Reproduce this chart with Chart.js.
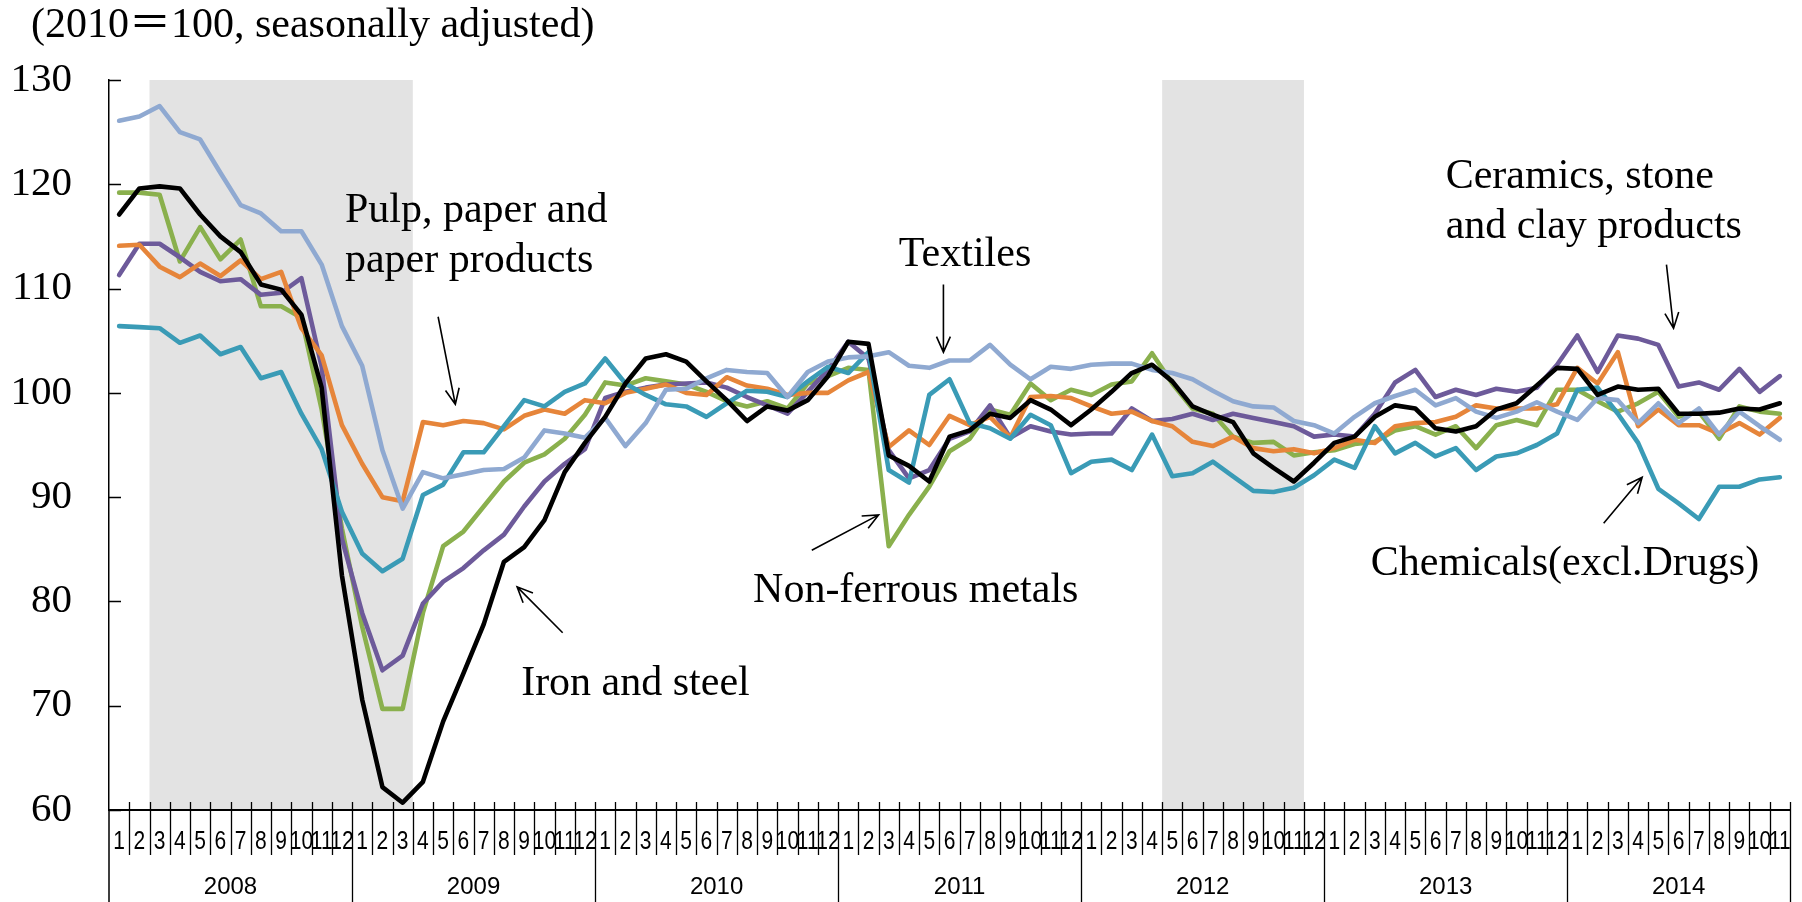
<!DOCTYPE html>
<html>
<head>
<meta charset="utf-8">
<script src="https://cdn.jsdelivr.net/npm/chart.js@4.4.1/dist/chart.umd.min.js"></script>
<style>
  html, body { margin: 0; padding: 0; background: #ffffff; }
  #wrap { width: 1802px; height: 902px; }
</style>
</head>
<body>
<div id="wrap"><canvas id="chart" width="1802" height="902"></canvas></div>
<script>
// --- data (Jan 2008 .. Nov 2014, monthly) ---
const years = ['2008', '2009', '2010', '2011', '2012', '2013', '2014'];
const monthNames = ['1', '2', '3', '4', '5', '6', '7', '8', '9', '10', '11', '12'];
const monthsInLastYear = 11;
const yTicks = [60, 70, 80, 90, 100, 110, 120, 130];

const ironSteel = [
  117.1, 119.6, 119.8, 119.6, 117.1, 115.0, 113.5, 110.4, 109.9, 107.5, 100.5, 82.5,
  70.6, 62.2, 60.7, 62.7, 68.5, 73.1, 77.8, 83.8, 85.2, 87.8, 92.4, 95.2,
  97.7, 100.9, 103.3, 103.7, 103.0, 101.1, 99.3, 97.3, 98.7, 98.3, 99.3, 101.6,
  104.9, 104.7, 94.0, 93.0, 91.5, 95.8, 96.4, 98.0, 97.6, 99.3, 98.4, 96.9,
  98.4, 100.1, 101.9, 102.7, 101.1, 98.7, 97.9, 97.2, 94.2, 92.8, 91.5, 93.3,
  95.2, 95.8, 97.7, 98.8, 98.5, 96.6, 96.3, 96.8, 98.4, 99.0, 100.7, 102.4,
  102.3, 99.8, 100.6, 100.3, 100.4, 98.0, 98.0, 98.1, 98.5, 98.4, 99.0
];
const nonFerrous = [
  119.2, 119.2, 119.0, 112.6, 115.9, 112.8, 114.7, 108.3, 108.3, 107.2, 98.4, 87.0,
  77.6, 69.7, 69.7, 78.9, 85.3, 86.7, 89.1, 91.5, 93.3, 94.1, 95.6, 97.9,
  101.0, 100.7, 101.4, 101.1, 100.8, 100.1, 99.2, 98.7, 99.2, 98.5, 100.9, 101.6,
  102.4, 102.2, 85.3, 88.3, 91.0, 94.4, 95.6, 98.4, 97.9, 100.9, 99.3, 100.3,
  99.8, 100.8, 101.1, 103.8, 100.9, 98.5, 98.0, 95.8, 95.2, 95.3, 94.0, 94.3,
  94.5, 95.1, 95.3, 96.4, 96.8, 96.0, 96.8, 94.7, 96.9, 97.4, 96.9, 100.3,
  100.3, 99.2, 98.2, 99.0, 100.1, 97.7, 98.2, 95.6, 98.7, 98.2, 98.0
];
const pulpPaper = [
  114.1, 114.2, 112.1, 111.1, 112.4, 111.2, 112.7, 110.9, 111.6, 106.2, 103.6, 96.9,
  93.2, 90.0, 89.6, 97.2, 96.9, 97.3, 97.1, 96.5, 97.8, 98.4, 98.0, 99.3,
  99.0, 100.0, 100.4, 100.8, 100.0, 99.8, 101.5, 100.7, 100.4, 99.8, 100.0, 100.0,
  101.2, 102.0, 94.8, 96.4, 95.0, 97.8, 96.9, 97.7, 95.7, 99.6, 99.7, 99.5,
  98.7, 98.0, 98.2, 97.3, 96.8, 95.3, 94.9, 95.8, 94.7, 94.4, 94.6, 94.2,
  94.7, 95.5, 95.2, 96.8, 97.1, 97.2, 97.7, 98.8, 98.5, 98.5, 98.5, 98.9,
  102.4, 100.9, 103.9, 96.8, 98.4, 96.9, 96.9, 96.1, 97.1, 96.0, 97.6
];
const textiles = [
  126.1, 126.5, 127.5, 125.0, 124.3, 121.1, 118.0, 117.2, 115.5, 115.5, 112.3, 106.4,
  102.6, 94.5, 88.9, 92.4, 91.8, 92.2, 92.6, 92.7, 93.8, 96.4, 96.1, 95.7,
  97.6, 94.9, 97.1, 100.3, 100.4, 101.4, 102.2, 102.0, 101.9, 99.6, 102.0, 103.0,
  103.4, 103.5, 103.9, 102.6, 102.4, 103.1, 103.1, 104.6, 102.7, 101.3, 102.5, 102.3,
  102.7, 102.8, 102.8, 102.2, 101.9, 101.3, 100.2, 99.2, 98.7, 98.6, 97.3, 96.9,
  96.1, 97.7, 99.0, 99.7, 100.3, 98.8, 99.5, 98.2, 97.6, 98.2, 99.1, 98.2,
  97.4, 99.5, 99.3, 97.1, 99.0, 97.1, 98.5, 96.0, 98.2, 96.8, 95.5
];
const ceramics = [
  111.3, 114.3, 114.3, 113.0, 111.6, 110.7, 110.9, 109.4, 109.6, 111.0, 102.5, 86.0,
  78.9, 73.4, 74.8, 79.8, 81.9, 83.2, 84.9, 86.4, 89.1, 91.5, 93.2, 94.6,
  99.5, 100.1, 100.5, 100.8, 100.9, 101.0, 100.5, 99.6, 98.8, 98.0, 100.1, 102.2,
  104.9, 103.3, 94.5, 91.8, 92.6, 95.6, 96.3, 98.8, 95.7, 96.8, 96.3, 96.0,
  96.1, 96.1, 98.5, 97.3, 97.5, 98.0, 97.4, 98.0, 97.6, 97.2, 96.8, 95.8,
  96.0, 95.8, 98.0, 101.0, 102.2, 99.6, 100.3, 99.8, 100.4, 100.1, 100.5, 102.7,
  105.5, 102.0, 105.5, 105.2, 104.6, 100.6, 101.0, 100.3, 102.3, 100.1, 101.6
];
const chemicals = [
  106.4, 106.3, 106.2, 104.8, 105.5, 103.7, 104.4, 101.4, 102.0, 98.0, 94.6, 88.6,
  84.6, 82.9, 84.1, 90.2, 91.2, 94.3, 94.3, 96.8, 99.3, 98.7, 100.1, 100.9,
  103.3, 100.9, 99.8, 98.9, 98.7, 97.7, 99.0, 100.2, 100.1, 99.6, 101.1, 102.5,
  101.9, 103.9, 92.6, 91.4, 99.8, 101.3, 97.1, 96.6, 95.6, 97.9, 96.9, 92.3,
  93.4, 93.6, 92.6, 96.0, 92.0, 92.3, 93.4, 92.0, 90.6, 90.5, 90.9, 92.1,
  93.6, 92.8, 96.8, 94.2, 95.2, 93.9, 94.7, 92.6, 93.9, 94.2, 95.0, 96.1,
  100.3, 100.5, 98.0, 95.2, 90.8, 89.4, 87.9, 91.0, 91.0, 91.7, 91.9
];

// recession shading: first and last month index (inclusive)
const recessions = [[2, 14], [52, 58]];

// category labels
const categories = [];
years.forEach((y, k) => {
  const n = k === years.length - 1 ? monthsInLastYear : 12;
  for (let m = 0; m < n; m++) categories.push(y + '/' + monthNames[m]);
});

// annotations, anchored in data space (month index, value)
const notes = [
  { lines: ['Pulp, paper and', 'paper products'], at: [11.15, 116.4], arrow: [[15.75, 107.3], [16.6, 98.9]] },
  { lines: ['Textiles'], at: [38.5, 112.2], arrow: [[40.7, 110.4], [40.7, 103.9]] },
  { lines: ['Ceramics, stone', 'and clay products'], at: [65.5, 119.6], arrow: [[76.4, 112.3], [76.75, 106.2]] },
  { lines: ['Non-ferrous metals'], at: [31.3, 79.95], arrow: [[34.2, 84.9], [37.5, 88.3]] },
  { lines: ['Iron and steel'], at: [19.85, 71.0], arrow: [[21.9, 77.0], [19.65, 81.4]] },
  { lines: ['Chemicals(excl.Drugs)'], at: [61.8, 82.5], arrow: [[73.3, 87.5], [75.2, 91.9]] }
];

const serif = "'Liberation Serif', 'Noto Sans CJK JP', 'Times New Roman', serif";
const sans = "'Liberation Sans', Arial, sans-serif";

function arrow(ctx, x1, y1, x2, y2) {
  const a = Math.atan2(y2 - y1, x2 - x1);
  const len = 17, spread = 0.42;
  ctx.beginPath();
  ctx.moveTo(x1, y1);
  ctx.lineTo(x2, y2);
  ctx.moveTo(x2 - len * Math.cos(a - spread), y2 - len * Math.sin(a - spread));
  ctx.lineTo(x2, y2);
  ctx.lineTo(x2 - len * Math.cos(a + spread), y2 - len * Math.sin(a + spread));
  ctx.stroke();
}

const decor = {
  id: 'decor',
  beforeDatasetsDraw(chart) {
    const { ctx, chartArea, scales: { x } } = chart;
    const half = (x.getPixelForValue(1) - x.getPixelForValue(0)) / 2;
    ctx.save();
    ctx.fillStyle = '#e3e3e3';
    recessions.forEach(([a, b]) => {
      const l = x.getPixelForValue(a) - half;
      const r = x.getPixelForValue(b) + half;
      ctx.fillRect(l, chartArea.top, r - l, chartArea.bottom - chartArea.top);
    });
    ctx.restore();
  },
  afterDraw(chart) {
    const { ctx, chartArea, scales: { x, y } } = chart;
    const H = chart.height;
    const half = (x.getPixelForValue(1) - x.getPixelForValue(0)) / 2;
    const edge = i => x.getPixelForValue(i) - half;
    const n = categories.length;
    const base = chartArea.bottom;
    ctx.save();
    ctx.strokeStyle = '#000';
    ctx.fillStyle = '#000';

    // inward y ticks + axis extension
    ctx.lineWidth = 1.5;
    ctx.beginPath();
    yTicks.forEach(v => {
      const py = Math.round(y.getPixelForValue(v)) + 0.5;
      ctx.moveTo(chartArea.left, py);
      ctx.lineTo(chartArea.left + 12, py);
    });
    ctx.moveTo(chartArea.left, base);
    ctx.lineTo(chartArea.left, H);
    ctx.stroke();

    // x axis line
    ctx.lineWidth = 2;
    ctx.beginPath();
    ctx.moveTo(chartArea.left, base);
    ctx.lineTo(edge(n), base);
    ctx.stroke();

    // month labels (condensed)
    ctx.font = '25px ' + sans;
    ctx.textAlign = 'center';
    ctx.textBaseline = 'middle';
    categories.forEach((c, i) => {
      const label = c.split('/')[1];
      ctx.save();
      ctx.translate(x.getPixelForValue(i), base + 32);
      ctx.scale(0.84, 1);
      ctx.fillText(label, 0, 0);
      ctx.restore();
    });

    // month separators and year separators
    ctx.lineWidth = 1.3;
    ctx.beginPath();
    for (let i = 1; i <= n; i++) {
      const px = Math.round(edge(i)) + 0.5;
      const yearEdge = i % 12 === 0 || i === n;
      ctx.moveTo(px, base - 8);
      ctx.lineTo(px, yearEdge ? H : base + 45);
    }
    ctx.stroke();

    // year labels
    ctx.font = '24px ' + sans;
    years.forEach((yr, k) => {
      const a = k * 12;
      const b = Math.min(a + 12, n);
      ctx.fillText(yr, (edge(a) + edge(b)) / 2, base + 77);
    });

    // title
    ctx.textAlign = 'left';
    ctx.textBaseline = 'alphabetic';
    ctx.font = '42px ' + serif;
    ctx.fillText('(2010\uFF1D100, seasonally adjusted)', 31, 37);

    // annotations
    ctx.font = '42px ' + serif;
    ctx.lineWidth = 1.6;
    notes.forEach(nt => {
      const tx = x.getPixelForValue(nt.at[0]);
      const ty = y.getPixelForValue(nt.at[1]);
      nt.lines.forEach((t, j) => ctx.fillText(t, tx, ty + j * 50));
      const [p, q] = nt.arrow;
      arrow(ctx, x.getPixelForValue(p[0]), y.getPixelForValue(p[1]),
                 x.getPixelForValue(q[0]), y.getPixelForValue(q[1]));
    });
    ctx.restore();
  }
};

const line = (label, data, color) => ({
  label, data, borderColor: color, backgroundColor: color,
  borderWidth: 4.6, pointRadius: 0, tension: 0,
  borderJoinStyle: 'round', borderCapStyle: 'round', fill: false
});

new Chart(document.getElementById('chart').getContext('2d'), {
  type: 'line',
  data: {
    labels: categories,
    datasets: [
      line('Iron and steel', ironSteel, '#000000'),
      line('Textiles', textiles, '#8fa9d1'),
      line('Chemicals(excl.Drugs)', chemicals, '#3a9bb6'),
      line('Pulp, paper and paper products', pulpPaper, '#e6853a'),
      line('Ceramics, stone and clay products', ceramics, '#6d5a9a'),
      line('Non-ferrous metals', nonFerrous, '#8ab04d')
    ]
  },
  options: {
    responsive: false,
    animation: false,
    devicePixelRatio: 1,
    layout: { padding: { left: 0, right: 12, top: 80, bottom: 92 } },
    plugins: { legend: { display: false }, tooltip: { enabled: false } },
    scales: {
      x: { type: 'category', display: false, offset: true },
      y: {
        min: 60, max: 130,
        afterFit: s => { s.width = 109; },
        afterBuildTicks: s => { s.ticks = yTicks.map(v => ({ value: v })); },
        ticks: { color: '#000', padding: 37, font: { family: serif, size: 41 } },
        grid: { display: false, drawTicks: false },
        border: { display: true, color: '#000', width: 1.5 }
      }
    }
  },
  plugins: [decor]
});
</script>
</body>
</html>
